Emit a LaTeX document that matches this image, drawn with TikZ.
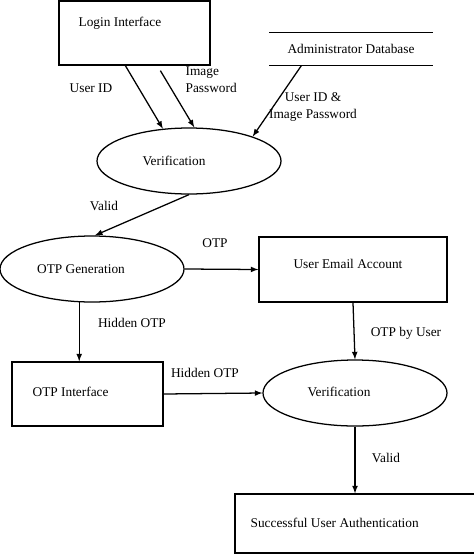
\documentclass[tikz,border=0pt]{standalone}
\usepackage{fontspec}
\setmainfont{Liberation Serif}
\usetikzlibrary{arrows,shapes,positioning}

\begin{document}
\begin{tikzpicture}[>=latex,x=0.75pt,y=-0.75pt,line width=0.95pt,
  font=\fontsize{10}{12.75}\selectfont,
  box/.style={draw,rectangle,inner sep=0pt},
  proc/.style={draw,ellipse,minimum width=138pt,minimum height=49.5pt,inner sep=0pt},
  store/.style={rectangle,minimum width=121.5pt,minimum height=24pt,inner sep=0pt},
  lbl/.style={inner sep=0pt}]
\useasboundingbox (0,0) rectangle (474,554);

% entities and store
\node[box,minimum width=113.25pt,minimum height=48pt] at (134.5,33) (login) {};
\node[lbl,anchor=west] at (78,23) (logintext) {Login Interface};
\node[store] at (351,49) (db) {Administrator Database};
\draw (db.north west) -- (db.north east) (db.south west) -- (db.south east);
\node[box,minimum width=141pt,minimum height=48.75pt] at (353,269.5) (email) {};
\node[lbl] at (348,264) (emailtext) {User Email Account};
\node[box,minimum width=113.25pt,minimum height=48pt] at (87.5,394) (otpif) {};
\node[lbl,anchor=west] at (32,392) (otpiftext) {OTP Interface};
\node[box,minimum width=191.25pt,minimum height=44.25pt] at (362.5,523.5) (success) {};
\node[lbl,anchor=west] at (250,523) (successtext) {Successful User Authentication};

% processes (text sits left of centre)
\node[proc] at (189,161) (verify1) {Verification\hspace*{22.5pt}};
\node[proc] at (92,269) (otpgen) {OTP Generation\hspace*{16.5pt}};
\node[proc] at (355,393) (verify2) {\raisebox{2pt}{Verification}\hspace*{24pt}};

% flows
\draw[->] ([xshift=50.25pt]login.south west) -- (verify1.129);
\draw[->] ([xshift=76.5pt,yshift=-3.75pt]login.south west) -- (verify1.81);
\draw[->] ([xshift=24pt]db.south west) -- (verify1.21);
\draw[->] (verify1.south) -- (otpgen.85);
\draw[->] (otpgen.east) -- (email.west);
\draw[->] (email.south) -- (verify2.north);
\draw[->] (otpgen.249) -- (otpgen.249 |- otpif.north);
\draw[->] (otpif.east) -- (verify2.west);
\draw[->] (verify2.south) -- (verify2.south |- success.north);

% flow labels
\node[lbl] at (91,88) (uid) {User ID};
\node[lbl,anchor=west,align=left] at (185,80) (imgpw) {Image\\Password};
\node[lbl,align=center] at (313,107.5) (dbdata) {User ID \&\\Image Password};
\node[lbl] at (104,206) (valid1) {Valid};
\node[lbl] at (215,243) (otp) {OTP};
\node[lbl] at (132,323) (hidden1) {Hidden OTP};
\node[lbl] at (406,333) (otpuser) {OTP by User};
\node[lbl] at (205,373) (hidden2) {Hidden OTP};
\node[lbl] at (386,458) (valid2) {Valid};
\end{tikzpicture}
\end{document}
